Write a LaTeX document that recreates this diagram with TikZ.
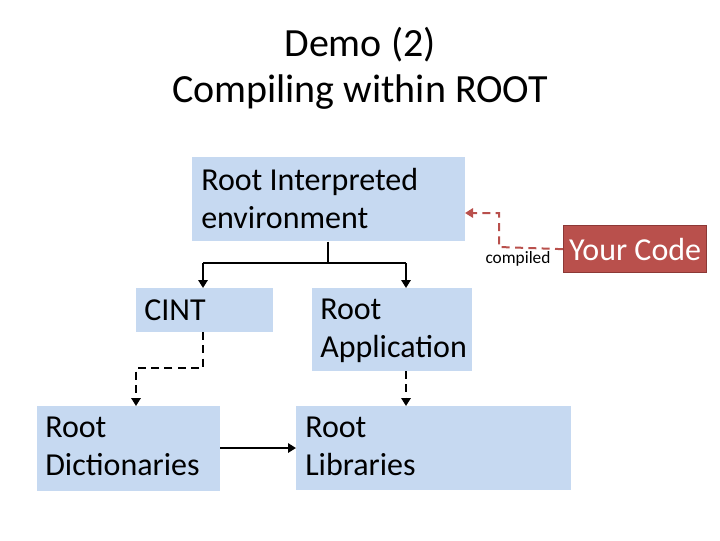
\documentclass[tikz,border=0pt]{standalone}
\usepackage{fontspec}
\setmainfont{Carlito}
\usetikzlibrary{arrows.meta}
\definecolor{bx}{HTML}{C6D9F1}
\definecolor{rc}{HTML}{B9504C}
\definecolor{rcd}{HTML}{8C3836}
\begin{document}
\begin{tikzpicture}[x=0.75pt,y=-0.75pt,
 box/.style={fill=bx,draw=none,inner sep=0,anchor=north west},
 txt/.style={anchor=north west,align=left,font=\fontsize{24}{28.5}\selectfont,inner sep=0},
 con/.style={line width=1.5pt,-{Triangle[length=6pt,width=7pt]}},
 dcon/.style={con,dash pattern=on 6pt off 4pt}]
\useasboundingbox (0,0) rectangle (720,540);
\node (t1) at (360,45) {\fontsize{30}{28}\selectfont Demo (2)};
\node (t2) at (360,92) {\fontsize{30}{28}\selectfont Compiling within ROOT};
\node[box,minimum width=204.75pt,minimum height=63pt] (rie) at (192,157) {};
\node[txt] (rieT) at (201,168) {Root Interpreted\\environment};
\node[box,minimum width=102.75pt,minimum height=33pt] (cint) at (136,288) {};
\node[txt] (cintT) at (144,299) {CINT};
\node[box,minimum width=120pt,minimum height=62.25pt] (app) at (312,288) {};
\node[txt] (appT) at (320,299) {Root\\Application};
\node[box,minimum width=137.25pt,minimum height=63.75pt] (dic) at (37,406) {};
\node[txt] (dicT) at (45,417) {Root\\Dictionaries};
\node[box,minimum width=206.25pt,minimum height=63pt] (lib) at (296,406) {};
\node[txt] (libT) at (305,417) {Root\\Libraries};
\node[fill=rc,draw=rcd,line width=1pt,anchor=north west,minimum width=107.25pt,minimum height=35.25pt,text=white,font=\fontsize{24}{24}\selectfont,inner sep=0] (yc) at (563,225) {Your Code};
\node[font=\fontsize{13}{14}\selectfont,inner sep=0] (cmp) at (518,259) {compiled};
\coordinate (j) at (328,263);
\draw[line width=1.5pt] (rie.south -| j) -- (j);
\draw[con] (203,263) -- (203,288);
\draw[con] (406,263) -- (406,288);
\draw[line width=1.5pt] (203,263) -- (406,263);
\draw[dcon] (203,332) -- (203,368) -- (136,368) -- (136,406);
\draw[dcon] (406,371) -- (406,406);
\draw[con] (220,448) -- (296,448);
\draw[dcon,draw=rc,-{Triangle[length=6pt,width=7pt,fill=rc]},color=rc] (yc.west) -- (499,247) -- (499,213) -- (465,213);
\end{tikzpicture}
\end{document}
